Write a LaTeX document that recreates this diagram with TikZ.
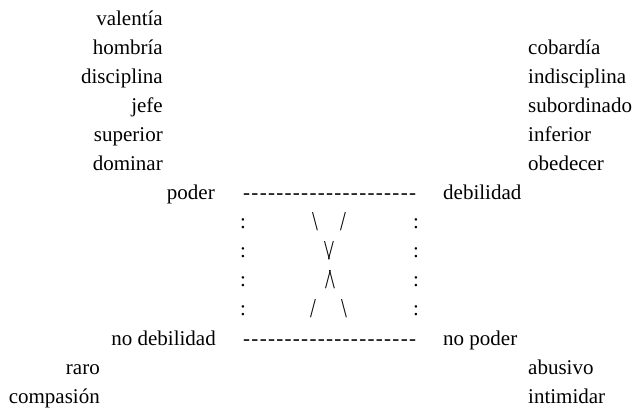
\documentclass[tikz,border=0pt]{standalone}
\usepackage{fontspec}
\setmainfont{Liberation Serif}
\newcommand\hy{\mbox{-}\kern1.3pt}
\newcommand\hyline{\hy\hy\hy\hy\hy\hy\hy\hy\hy\hy\hy\hy\hy\hy\hy\hy\hy\hy\hy\hy\mbox{-}}
\newcommand\tallglyph[1]{\scalebox{1}[1.3]{#1}}
\tikzset{
  word/.style={inner sep=0pt, font=\fontsize{21}{25}\selectfont},
  lw/.style={word, anchor=base east},
  rw/.style={word, anchor=base west},
  cw/.style={word, anchor=base},
  dashrow/.style={word, anchor=base west},
}
\begin{document}
\begin{tikzpicture}[x=1pt,y=-1pt]
\useasboundingbox (0,0) rectangle (641,409);
% left column
\node[lw] (valentia) at (163,26) {valentía};
\node[lw] (hombria) at (163,55) {hombría};
\node[lw] (disciplina) at (163,84) {disciplina};
\node[lw] (jefe) at (163,113) {jefe};
\node[lw] (superior) at (163,142) {superior};
\node[lw] (dominar) at (163,171) {dominar};
% right column
\node[rw] (cobardia) at (528,55) {cobardía};
\node[rw] (indisciplina) at (528,84) {indisciplina};
\node[rw] (subordinado) at (528,113) {subordinado};
\node[rw] (inferior) at (528,142) {inferior};
\node[rw] (obedecer) at (528,171) {obedecer};
% square
\node[lw] (poder) at (215,200) {poder};
\node[dashrow] (toprule) at (243,200) {\hyline};
\node[rw] (debilidad) at (443,200) {debilidad};
\node[lw] (nodebilidad) at (216,345) {no debilidad};
\node[dashrow] (botrule) at (243,345) {\hyline};
\node[rw] (nopoder) at (443,345) {no poder};
% colons
\node[cw] (cl1) at (243,229) {:};
\node[cw] (cl2) at (243,258) {:};
\node[cw] (cl3) at (243,287) {:};
\node[cw] (cl4) at (243,316) {:};
\node[cw] (cr1) at (416,229) {:};
\node[cw] (cr2) at (416,258) {:};
\node[cw] (cr3) at (416,287) {:};
\node[cw] (cr4) at (416,316) {:};
% cross
\node[cw] (s1a) at (315,231) {\tallglyph{\textbackslash}};
\node[cw] (s1b) at (343,231) {\tallglyph{/}};
\node[cw] (s2) at (329,260) {\tallglyph{\textbackslash\kern-2pt/}};
\node[cw] (s3) at (330,289) {\tallglyph{/\kern-2pt\textbackslash}};
\node[cw] (s4a) at (313,318) {\tallglyph{/}};
\node[cw] (s4b) at (344,318) {\tallglyph{\textbackslash}};
% bottom
\node[lw] (raro) at (100,374) {raro};
\node[lw] (compasion) at (100,403) {compasión};
\node[rw] (abusivo) at (528,374) {abusivo};
\node[rw] (intimidar) at (528,403) {intimidar};
\end{tikzpicture}
\end{document}
